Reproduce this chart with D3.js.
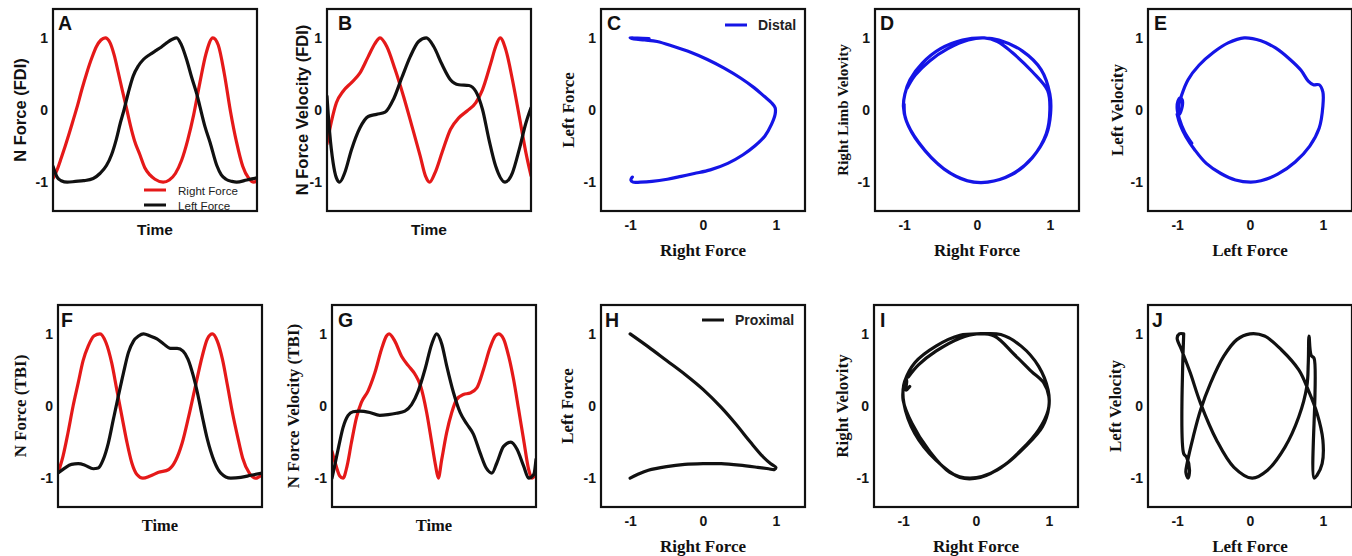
<!DOCTYPE html>
<html>
<head>
<meta charset="utf-8">
<script src="https://cdn.jsdelivr.net/npm/d3@7"></script>
<style>
  html, body { margin: 0; padding: 0; background: #fff; }
  svg { display: block; }
</style>
</head>
<body>
<svg id="fig" width="1352" height="556"></svg>
<script>
// ---- time series (time index 0..100, normalised value) ----
const fdiRightForce = [[0,-0.95],[2,-0.83],[4,-0.67],[6,-0.5],[8,-0.32],[10,-0.13],[12,0.06],[14,0.27],[16.4,0.5],[19,0.72],[21.3,0.88],[23.5,0.97],[25.6,1.0],[28,0.93],[30,0.76],[32,0.52],[34,0.27],[36,0.03],[38,-0.22],[40,-0.43],[42.6,-0.62],[45,-0.8],[47.5,-0.9],[50,-0.96],[54,-1.0],[57,-0.97],[60,-0.88],[63,-0.7],[66,-0.42],[69,-0.06],[72,0.38],[75,0.78],[78.4,1.0],[81,0.9],[84,0.5],[87,-0.02],[90,-0.45],[93,-0.78],[96,-0.95],[98.5,-1.0],[100,-0.97]];
const fdiLeftForce = [[0,-0.78],[2,-0.93],[4,-0.98],[7,-1.0],[11,-0.99],[15,-0.98],[19.7,-0.95],[23,-0.88],[26.2,-0.77],[28.7,-0.62],[31.1,-0.4],[33,-0.18],[34.8,0.0],[37,0.25],[39.3,0.47],[41.8,0.61],[44.3,0.7],[47.5,0.77],[50.8,0.83],[53,0.87],[55.7,0.93],[58.5,0.98],[60.6,1.0],[63,0.9],[65.6,0.69],[68,0.45],[70.5,0.22],[72,0.05],[74.5,-0.23],[77,-0.45],[80.3,-0.77],[82.5,-0.9],[84.8,-0.96],[87.7,-0.99],[90,-1.0],[95,-0.97],[100,-0.94]];
const fdiRightVelocity = [[0,-0.47],[2.1,-0.17],[4.6,0.1],[7.9,0.26],[12,0.38],[16.1,0.51],[20.2,0.74],[23.5,0.92],[26,1.0],[29.3,0.88],[33.4,0.56],[37.5,0.19],[41.6,-0.22],[45.7,-0.64],[48.2,-0.91],[50.3,-1.0],[53.1,-0.86],[56.4,-0.59],[60.5,-0.27],[64.6,-0.11],[68.8,-0.01],[72.9,0.1],[76.2,0.28],[80.3,0.65],[82.7,0.88],[84.9,1.0],[87.7,0.83],[90.9,0.42],[94.2,-0.08],[97.5,-0.59],[100,-0.91]];
const fdiLeftVelocity = [[0,0.19],[1.3,-0.31],[3,-0.73],[4.6,-0.94],[6.2,-1.0],[8.7,-0.87],[12,-0.55],[16.1,-0.25],[20.2,-0.09],[24.3,-0.06],[28.5,-0.03],[32.6,0.15],[36.7,0.45],[40.8,0.74],[44.9,0.95],[48.7,1.0],[52.3,0.88],[56.4,0.63],[60.5,0.42],[64.6,0.35],[69.6,0.34],[72.9,0.26],[76.2,0.01],[79.4,-0.41],[82.7,-0.78],[87.3,-1.0],[90.9,-0.87],[94.2,-0.55],[97.5,-0.18],[100,0.03]];
const tbiRightForce = [[0,-0.93],[2.5,-0.69],[4.9,-0.37],[7.4,0.0],[9.9,0.32],[12.3,0.63],[14.8,0.83],[17.6,0.97],[20.6,1.0],[23.5,0.88],[26.3,0.6],[28.8,0.23],[31.3,-0.14],[33.7,-0.49],[36.2,-0.79],[38.7,-0.95],[41.6,-1.0],[45.2,-0.97],[49.3,-0.92],[54.3,-0.88],[57.6,-0.76],[60.9,-0.51],[64.1,-0.14],[67.4,0.28],[70.7,0.69],[73.2,0.93],[75.7,1.0],[78.1,0.9],[80.6,0.65],[83.1,0.28],[85.5,-0.09],[88,-0.42],[90.5,-0.72],[93.8,-0.93],[97,-1.0],[100,-0.95]];
const tbiLeftForce = [[0,-0.93],[3.3,-0.86],[6.6,-0.81],[9.9,-0.8],[13.2,-0.82],[17.3,-0.87],[19.7,-0.86],[22.2,-0.74],[24.7,-0.51],[27.1,-0.19],[29.6,0.14],[32.1,0.46],[34.5,0.74],[37,0.9],[39.5,0.97],[41.9,1.0],[45.2,0.97],[48.5,0.93],[51.8,0.86],[55.1,0.8],[58.4,0.8],[61.3,0.76],[63.7,0.65],[66.3,0.42],[68.3,0.19],[70.7,-0.14],[73.2,-0.46],[76.5,-0.76],[79.8,-0.93],[84.7,-1.0],[89.6,-0.99],[94.6,-0.96],[100,-0.93]];
const tbiRightVelocity = [[0,-0.63],[1.6,-0.79],[3.8,-0.97],[5.4,-1.0],[7.4,-0.83],[9.5,-0.51],[12,-0.16],[14.4,0.05],[17.7,0.21],[21,0.46],[24.3,0.79],[26.7,0.97],[28,1.0],[30.8,0.9],[34.1,0.69],[37.4,0.56],[40.7,0.44],[43.4,0.28],[46.4,-0.09],[48.9,-0.51],[50.8,-0.83],[52.1,-1.0],[53.8,-0.74],[56.2,-0.37],[58.7,-0.09],[61.1,0.09],[64.4,0.16],[67.7,0.18],[71,0.25],[74.3,0.51],[77.5,0.81],[80,0.97],[81.6,1.0],[84.1,0.93],[86.6,0.69],[89,0.37],[91.5,-0.05],[93.9,-0.46],[96.4,-0.88],[98,-1.0],[100,-0.95]];
const tbiLeftVelocity = [[0,-1.0],[1.3,-0.83],[3.3,-0.56],[5.4,-0.3],[7.9,-0.13],[10.3,-0.08],[13.6,-0.07],[18.5,-0.09],[23.4,-0.13],[27.5,-0.12],[31.6,-0.1],[35.7,-0.07],[39,0.02],[42.3,0.21],[45.6,0.51],[48.9,0.86],[51.3,1.0],[53.8,0.86],[56.2,0.56],[59.5,0.19],[62.8,-0.09],[66.1,-0.25],[69.3,-0.39],[72.6,-0.65],[75.6,-0.86],[78.4,-0.93],[80.8,-0.79],[84.1,-0.56],[87.7,-0.5],[90.7,-0.6],[93.9,-0.83],[96.4,-1.0],[98.9,-0.95],[100,-0.74]];

// ---- phase plots ([x, y]) ----
const distalForces = [[-0.74,0.99],[-0.9,0.995],[-1.0,1.0],[-0.95,0.985],[-0.8,0.97],[-0.63,0.95],[-0.4,0.88],[-0.17,0.8],[0.06,0.7],[0.29,0.58],[0.52,0.44],[0.7,0.31],[0.84,0.19],[0.94,0.1],[0.99,0.03],[0.99,-0.06],[0.94,-0.2],[0.85,-0.36],[0.71,-0.5],[0.55,-0.62],[0.34,-0.74],[0.1,-0.83],[-0.12,-0.88],[-0.3,-0.92],[-0.49,-0.96],[-0.7,-0.99],[-0.86,-1.0],[-0.96,-1.0],[-0.99,-0.97],[-0.97,-0.93]];
const distalRight = [[-0.96,0.3],[-0.85,0.48],[-0.65,0.68],[-0.4,0.85],[-0.12,0.97],[0.1,1.0],[0.28,0.95],[0.48,0.8],[0.76,0.53],[0.97,0.27],[1.0,0.0],[0.95,-0.33],[0.76,-0.66],[0.48,-0.89],[0.15,-1.0],[-0.13,-0.98],[-0.45,-0.82],[-0.79,-0.47],[-0.97,-0.15],[-1.01,0.05],[-0.99,0.22],[-0.92,0.42],[-0.75,0.65],[-0.5,0.85],[-0.2,0.97],[0.1,1.0],[0.3,0.97],[0.62,0.82],[0.88,0.56],[1.0,0.22],[1.01,-0.05],[0.95,-0.35],[0.75,-0.67],[0.47,-0.9],[0.14,-1.0],[-0.14,-0.98],[-0.46,-0.81],[-0.8,-0.45],[-0.98,-0.12],[-1.0,0.08]];
const distalLeft = [[-0.8,-0.46],[-0.9,-0.3],[-0.97,-0.12],[-1.0,0.02],[-0.99,0.12],[-0.96,0.17],[-0.93,0.14],[-0.93,0.05],[-0.97,-0.06],[-0.98,0.04],[-0.94,0.2],[-0.85,0.42],[-0.7,0.62],[-0.5,0.8],[-0.3,0.93],[-0.08,1.0],[0.15,0.96],[0.35,0.86],[0.55,0.7],[0.7,0.55],[0.8,0.4],[0.87,0.35],[0.95,0.35],[1.0,0.25],[1.0,0.05],[0.95,-0.25],[0.82,-0.5],[0.62,-0.72],[0.38,-0.89],[0.15,-0.98],[0.01,-1.0],[-0.2,-0.97],[-0.4,-0.88],[-0.6,-0.74],[-0.76,-0.55],[-0.88,-0.37],[-0.96,-0.2],[-1.0,-0.06]];
const proximalForces = [[-1.0,1.0],[-0.75,0.82],[-0.5,0.63],[-0.25,0.44],[0,0.23],[0.25,-0.02],[0.45,-0.25],[0.65,-0.5],[0.82,-0.7],[0.93,-0.8],[1.0,-0.85],[0.98,-0.88],[0.9,-0.87],[0.75,-0.85],[0.5,-0.82],[0.25,-0.8],[0,-0.8],[-0.25,-0.81],[-0.5,-0.84],[-0.75,-0.89],[-0.9,-0.95],[-1.0,-1.0]];
const proximalRight = [[-0.93,0.4],[-0.79,0.57],[-0.55,0.76],[-0.22,0.94],[0.01,1.0],[0.25,0.97],[0.53,0.71],[0.76,0.48],[0.93,0.32],[1.0,0.13],[0.99,-0.06],[0.86,-0.33],[0.62,-0.61],[0.29,-0.89],[-0.08,-1.0],[-0.36,-0.92],[-0.65,-0.61],[-0.88,-0.24],[-1.0,0.08],[-1.0,0.22],[-0.98,0.34],[-0.84,0.6],[-0.55,0.83],[-0.22,0.98],[0.06,1.0],[0.34,0.99],[0.62,0.83],[0.86,0.55],[0.99,0.22],[1.0,-0.01],[0.91,-0.29],[0.67,-0.57],[0.39,-0.82],[0.06,-0.99],[-0.22,-0.99],[-0.55,-0.75],[-0.84,-0.38],[-0.99,0.04],[-0.99,0.29],[-0.95,0.36],[-0.96,0.22],[-0.91,0.27]];
const proximalLeft = [[-0.91,1.0],[-0.91,-0.66],[-0.87,-0.71],[-0.83,-0.89],[-0.85,-1.0],[-0.88,-0.92],[-0.86,-0.78],[-0.78,-0.43],[-0.68,-0.06],[-0.54,0.32],[-0.36,0.69],[-0.18,0.92],[0.0,1.0],[0.2,0.97],[0.43,0.78],[0.67,0.5],[0.8,0.22],[0.92,-0.1],[1.0,-0.47],[0.99,-0.8],[0.92,-0.96],[0.88,-1.0],[0.88,0.66],[0.84,0.7],[0.81,0.97],[0.8,0.6],[0.78,0.27],[0.67,-0.15],[0.48,-0.57],[0.24,-0.89],[0.03,-1.0],[-0.22,-0.85],[-0.46,-0.47],[-0.68,0.04],[-0.82,0.46],[-0.94,0.78],[-1.0,0.94],[-0.97,1.0],[-0.91,1.0]];

const tickValues = [-1, 0, 1];

const RED = "#e51919", BLACK = "#111111", BLUE = "#1515e6";
const SANS = "'Liberation Sans', Arial, sans-serif";
const SERIF = "'Liberation Serif', 'Times New Roman', serif";
const PW = 204, PH = 202;

const panels = [
  { letter: "A", x: 53,   y: 9,   dx: 5,  kind: "time", yLabel: "N Force (FDI)",          ylx: 20,   xLabel: "Time",        font: SANS,
    series: [[fdiRightForce, RED], [fdiLeftForce, BLACK]], legend: "force" },
  { letter: "B", x: 327,  y: 9,   dx: 11, kind: "time", yLabel: "N Force Velocity (FDI)", ylx: 302,  xLabel: "Time",        font: SANS,
    series: [[fdiRightVelocity, RED], [fdiLeftVelocity, BLACK]] },
  { letter: "C", x: 601,  y: 9,   dx: 6,  kind: "phase", yLabel: "Left Force",            ylx: 568,  xLabel: "Right Force", font: SERIF,
    series: [[distalForces, BLUE]], legend: { text: "Distal", color: BLUE, lx: 124, tx: 157, ty: 16 } },
  { letter: "D", x: 875,  y: 9,   dx: 5,  kind: "phase", yLabel: "Right Limb Velovity",   ylx: 842,  xLabel: "Right Force", font: SERIF, ySize: 15.2,
    series: [[distalRight, BLUE]] },
  { letter: "E", x: 1148, y: 9,   dx: 6,  kind: "phase", yLabel: "Left Velocity",         ylx: 1117, xLabel: "Left Force",  font: SERIF,
    series: [[distalLeft, BLUE]] },
  { letter: "F", x: 58,   y: 305, dx: 3,  kind: "time", yLabel: "N Force (TBI)",          ylx: 20,   xLabel: "Time",        font: SERIF,
    series: [[tbiRightForce, RED], [tbiLeftForce, BLACK]] },
  { letter: "G", x: 332,  y: 305, dx: 6,  kind: "time", yLabel: "N Force Velocity (TBI)", ylx: 293,  xLabel: "Time",        font: SERIF,
    series: [[tbiRightVelocity, RED], [tbiLeftVelocity, BLACK]] },
  { letter: "H", x: 601,  y: 305, dx: 4,  kind: "phase", yLabel: "Left Force",            ylx: 567,  xLabel: "Right Force", font: SERIF,
    series: [[proximalForces, BLACK]], legend: { text: "Proximal", color: BLACK, lx: 101, tx: 134, ty: 15 } },
  { letter: "I", x: 874,  y: 305, dx: 6,  kind: "phase", yLabel: "Right Velovity",        ylx: 842,  xLabel: "Right Force", font: SERIF,
    series: [[proximalRight, BLACK]] },
  { letter: "J", x: 1148, y: 305, dx: 4,  kind: "phase", yLabel: "Left Velocity",         ylx: 1115, xLabel: "Left Force",  font: SERIF,
    series: [[proximalLeft, BLACK]] }
];

const svg = d3.select("#fig");

panels.forEach((p, i) => {
  const x = p.kind === "time"
    ? d3.scaleLinear().domain([0, 100]).range([0, PW])
    : d3.scaleLinear().domain([-1.4, 1.4]).range([0, PW]);
  const y = d3.scaleLinear().domain([-1.4, 1.4]).range([PH, 0]);

  const g = svg.append("g").attr("transform", `translate(${p.x},${p.y})`);

  const clipId = "clip" + i;
  g.append("clipPath").attr("id", clipId)
    .append("rect").attr("x", 0).attr("y", 0).attr("width", PW).attr("height", PH);

  const line = d3.line()
    .x(d => x(d[0])).y(d => y(d[1]))
    .curve(p.kind === "time" ? d3.curveMonotoneX : d3.curveCatmullRom.alpha(0.5));

  const plot = g.append("g").attr("clip-path", `url(#${clipId})`);
  p.series.forEach(([data, color]) => {
    plot.append("path").datum(data)
      .attr("d", line)
      .attr("fill", "none")
      .attr("stroke", color)
      .attr("stroke-width", 3.2)
      .attr("stroke-linejoin", "round")
      .attr("stroke-linecap", "round");
  });

  // frame
  g.append("rect").attr("x", 0).attr("y", 0).attr("width", PW).attr("height", PH)
    .attr("fill", "none").attr("stroke", "#111").attr("stroke-width", 2.2);

  // y axis tick labels
  const ya = g.append("g").call(
    d3.axisLeft(y).tickValues(tickValues).tickSize(0).tickPadding(5).tickFormat(d => String(d)));
  ya.select(".domain").remove();
  ya.selectAll("text").attr("font-family", SANS).attr("font-size", 14)
    .attr("font-weight", "bold").attr("fill", "#151515");

  // x axis tick labels for phase plots
  if (p.kind === "phase") {
    const xa = g.append("g").attr("transform", `translate(0,${PH})`).call(
      d3.axisBottom(x).tickValues(tickValues).tickSize(0).tickPadding(9).tickFormat(d => String(d)));
    xa.select(".domain").remove();
    xa.selectAll("text").attr("font-family", SANS).attr("font-size", 14)
      .attr("font-weight", "bold").attr("fill", "#151515");
  }

  // panel letter
  g.append("text").attr("x", p.dx).attr("y", p.y < 100 ? 21 : 22)
    .attr("font-family", SANS).attr("font-size", 19.5).attr("font-weight", "bold")
    .attr("fill", "#111").text(p.letter);

  // axis titles
  const sans = p.font === SANS;
  svg.append("text")
    .attr("transform", `translate(${p.ylx},${p.y + PH / 2}) rotate(-90)`)
    .attr("text-anchor", "middle").attr("dominant-baseline", "central")
    .attr("font-family", p.font).attr("font-size", p.ySize || (sans ? 16.5 : 17)).attr("font-weight", "bold")
    .attr("fill", "#111").text(p.yLabel);

  const xTitleY = p.kind === "time" ? p.y + PH + 18 : p.y + PH + 39;
  svg.append("text")
    .attr("x", p.x + PW / 2).attr("y", xTitleY)
    .attr("text-anchor", "middle").attr("dominant-baseline", "central")
    .attr("font-family", p.font).attr("font-size", p.kind === "time" ? (sans ? 15.5 : 16.5) : 17).attr("font-weight", "bold")
    .attr("fill", "#111").text(p.xLabel);

  // legends
  if (p.legend === "force") {
    const items = [["Right Force", RED], ["Left Force", BLACK]];
    items.forEach(([label, color], k) => {
      const ly = 181 + k * 15;
      g.append("line").attr("x1", 91).attr("x2", 113).attr("y1", ly).attr("y2", ly)
        .attr("stroke", color).attr("stroke-width", 3);
      g.append("text").attr("x", 125).attr("y", ly).attr("dominant-baseline", "central")
        .attr("font-family", SANS).attr("font-size", 11.6).attr("fill", "#222").text(label);
    });
  } else if (p.legend) {
    const L = p.legend;
    g.append("line").attr("x1", L.lx).attr("x2", L.lx + 22).attr("y1", L.ty).attr("y2", L.ty)
      .attr("stroke", L.color).attr("stroke-width", 3);
    g.append("text").attr("x", L.tx).attr("y", L.ty).attr("dominant-baseline", "central")
      .attr("font-family", SANS).attr("font-size", 14).attr("font-weight", "bold")
      .attr("fill", "#222").text(L.text);
  }
});
</script>
</body>
</html>
